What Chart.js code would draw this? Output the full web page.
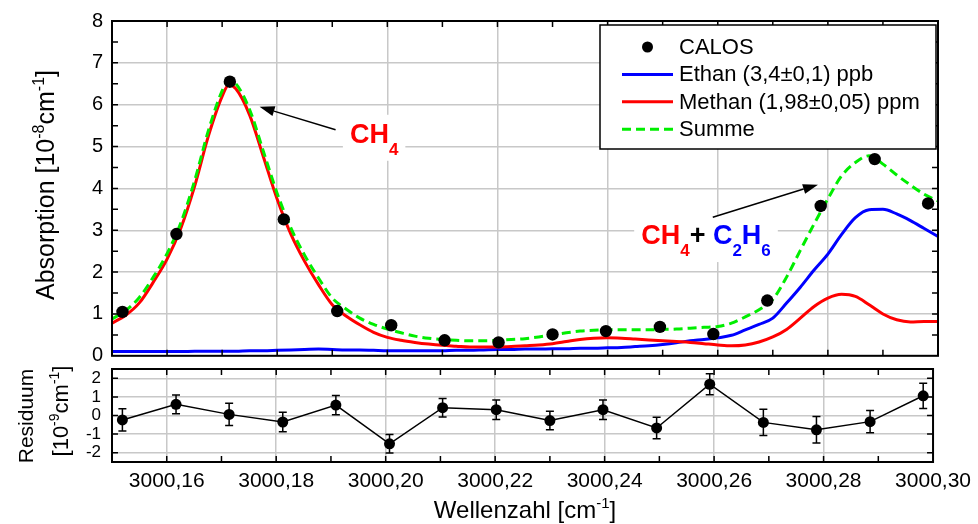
<!DOCTYPE html>
<html>
<head>
<meta charset="utf-8">
<script src="https://cdn.jsdelivr.net/npm/chart.js@4.4.1/dist/chart.umd.min.js"></script>
<style>
    body { margin: 0; background: #fff; width: 978px; height: 524px; position: relative; overflow: hidden; }
    canvas { position: absolute; left: 0; }
    #absChart { top: 0; }
    #resChart { top: 340px; }
</style>
</head>
<body>
<canvas id="absChart" width="978" height="362"></canvas>
<canvas id="resChart" width="978" height="184"></canvas>
<script>
// Wavenumber grid of the fitted curves [cm-1]
const curveX = [
    3000.1500, 3000.1525, 3000.1550, 3000.1575, 3000.1600, 3000.1625, 3000.1650, 3000.1675, 3000.1700, 3000.1712,
    3000.1725, 3000.1750, 3000.1775, 3000.1800, 3000.1825, 3000.1850, 3000.1875, 3000.1900, 3000.1925, 3000.1950,
    3000.1975, 3000.2000, 3000.2025, 3000.2050, 3000.2075, 3000.2100, 3000.2125, 3000.2150, 3000.2175, 3000.2200,
    3000.2225, 3000.2250, 3000.2275, 3000.2300, 3000.2325, 3000.2350, 3000.2375, 3000.2400, 3000.2425, 3000.2450,
    3000.2475, 3000.2500, 3000.2525, 3000.2550, 3000.2575, 3000.2600, 3000.2625, 3000.2650, 3000.2675, 3000.2700,
    3000.2725, 3000.2750, 3000.2775, 3000.2800, 3000.2825, 3000.2850, 3000.2875, 3000.2900, 3000.2925, 3000.2950,
    3000.2975, 3000.3000
];
// Absorption [1e-8 cm-1]
const ethan = [
    0.10, 0.10, 0.10, 0.10, 0.10, 0.10, 0.11, 0.11, 0.11, 0.11,
    0.11, 0.12, 0.12, 0.13, 0.14, 0.15, 0.16, 0.15, 0.14, 0.14,
    0.13, 0.12, 0.12, 0.12, 0.12, 0.12, 0.13, 0.13, 0.14, 0.15,
    0.15, 0.16, 0.16, 0.17, 0.17, 0.18, 0.18, 0.19, 0.20, 0.22,
    0.24, 0.27, 0.31, 0.36, 0.39, 0.43, 0.49, 0.62, 0.75, 0.90,
    1.26, 1.64, 2.05, 2.43, 2.90, 3.30, 3.49, 3.50, 3.39, 3.23,
    3.04, 2.85
];
const methan = [
    0.78, 0.97, 1.27, 1.76, 2.31, 3.05, 4.05, 5.25, 6.20, 6.47,
    6.38, 5.75, 4.75, 3.74, 2.90, 2.25, 1.70, 1.22, 0.95, 0.74,
    0.56, 0.44, 0.37, 0.32, 0.28, 0.25, 0.23, 0.21, 0.21, 0.21,
    0.22, 0.24, 0.26, 0.29, 0.34, 0.39, 0.42, 0.43, 0.42, 0.40,
    0.38, 0.36, 0.34, 0.32, 0.29, 0.26, 0.24, 0.26, 0.33, 0.45,
    0.63, 0.90, 1.18, 1.38, 1.47, 1.42, 1.22, 1.00, 0.86, 0.81,
    0.82, 0.82
];
const summe = [
    0.88, 1.08, 1.40, 1.88, 2.44, 3.18, 4.18, 5.38, 6.33, 6.58,
    6.50, 5.88, 4.88, 3.88, 3.05, 2.40, 1.86, 1.38, 1.12, 0.90,
    0.75, 0.64, 0.55, 0.47, 0.42, 0.39, 0.37, 0.36, 0.36, 0.37,
    0.39, 0.41, 0.45, 0.50, 0.55, 0.59, 0.61, 0.62, 0.62, 0.62,
    0.62, 0.63, 0.64, 0.66, 0.68, 0.70, 0.78, 0.93, 1.10, 1.35,
    1.88, 2.52, 3.15, 3.75, 4.30, 4.62, 4.78, 4.58, 4.32, 4.08,
    3.86, 3.70
];

// CALOS measurement
const calosX = [3000.1519, 3000.1617, 3000.1714, 3000.1812, 3000.1909, 3000.2007, 3000.2104, 3000.2202,
                3000.2300, 3000.2397, 3000.2495, 3000.2592, 3000.2690, 3000.2787, 3000.2885, 3000.2982];
const calosY = [1.05, 2.91, 6.55, 3.26, 1.07, 0.73, 0.37, 0.32, 0.51, 0.59, 0.69, 0.52, 1.32, 3.58, 4.70, 3.64];

// Residuum [1e-9 cm-1]
const residuum = [-0.24, 0.60, 0.06, -0.35, 0.56, -1.52, 0.42, 0.31, -0.27, 0.31, -0.67, 1.68, -0.37, -0.77, -0.33, 1.06];
const residuumErr = [0.60, 0.50, 0.60, 0.52, 0.52, 0.50, 0.50, 0.53, 0.50, 0.53, 0.58, 0.56, 0.70, 0.71, 0.60, 0.68];

// Axes
const xLabelTicks = [3000.16, 3000.18, 3000.20, 3000.22, 3000.24, 3000.26, 3000.28, 3000.30];
const xTickMarks = [3000.16, 3000.17, 3000.18, 3000.19, 3000.20, 3000.21, 3000.22, 3000.23,
                    3000.24, 3000.25, 3000.26, 3000.27, 3000.28, 3000.29];
const absTicks = [0, 1, 2, 3, 4, 5, 6, 7, 8];
const absTickMarks = [0.5, 1, 1.5, 2, 2.5, 3, 3.5, 4, 4.5, 5, 5.5, 6, 6.5, 7, 7.5];
const resTicks = [-2, -1, 0, 1, 2];

const FONT = "'Liberation Sans', Arial, sans-serif";
const RED = '#ff0000';
const BLUE = '#0000ff';
const GREEN = '#00ee00';
const GRID = '#c8c8c8';

Chart.defaults.font.family = FONT;
Chart.defaults.color = '#000';

// Text with super-/subscripts: parts = [text, 'sup'|'sub'|'', color]
function richText(ctx, parts, x, y, size, align, weight = 'normal') {
    const fontFor = kind => `${weight} ${kind ? Math.round(size * 0.62) : size}px ${FONT}`;
    let width = 0;
    parts.forEach(p => { ctx.font = fontFor(p[1]); width += ctx.measureText(p[0]).width; });
    let cx = align === 'center' ? x - width / 2 : x;
    ctx.textAlign = 'left';
    ctx.textBaseline = 'alphabetic';
    parts.forEach(p => {
        ctx.font = fontFor(p[1]);
        const dy = p[1] === 'sup' ? -size * 0.42 : p[1] === 'sub' ? size * 0.45 : 0;
        ctx.fillStyle = p[2] || '#000';
        ctx.fillText(p[0], cx, y + dy);
        cx += ctx.measureText(p[0]).width;
    });
    return width;
}

const points = (xs, ys) => xs.map((x, i) => ({ x, y: ys[i] }));
const setTicks = values => scale => { scale.ticks = values.map(v => ({ value: v })); };
// fixed axis width, no extra label padding so the plot area follows layout.padding
const fixWidth = w => scale => { scale.width = w; scale.paddingTop = 0; scale.paddingBottom = 0; };

// Frame around the plot area with inward tick marks
const framePlugin = {
    id: 'frame',
    afterDraw(chart, args, opts) {
        const { ctx, chartArea: a, scales: { x, y } } = chart;
        ctx.save();
        ctx.strokeStyle = '#000';
        ctx.lineWidth = 1.5;
        ctx.beginPath();
        opts.xMarks.forEach(v => {
            const px = x.getPixelForValue(v);
            ctx.moveTo(px, a.top); ctx.lineTo(px, a.top + 6);
            ctx.moveTo(px, a.bottom); ctx.lineTo(px, a.bottom - 6);
        });
        opts.yMarks.forEach(v => {
            const py = y.getPixelForValue(v);
            ctx.moveTo(a.left, py); ctx.lineTo(a.left + 6, py);
            ctx.moveTo(a.right, py); ctx.lineTo(a.right - 6, py);
        });
        ctx.stroke();
        ctx.lineWidth = 2;
        ctx.strokeRect(a.left, a.top, a.right - a.left, a.bottom - a.top);
        ctx.restore();
    }
};

// Axis titles with exponents
const titlesPlugin = {
    id: 'titles',
    afterDraw(chart, args, opts) {
        const ctx = chart.ctx;
        opts.items.forEach(t => {
            ctx.save();
            ctx.translate(t.x, t.y);
            if (t.rotate) ctx.rotate(-Math.PI / 2);
            richText(ctx, t.parts, 0, 0, t.size, 'center');
            ctx.restore();
        });
    }
};

// Boxed legend in the upper right corner
const boxLegend = {
    id: 'boxLegend',
    afterDraw(chart) {
        const { ctx, chartArea: a } = chart;
        const left = a.right - 338, top = a.top + 4, w = 336, h = 124;
        ctx.save();
        ctx.fillStyle = '#fff';
        ctx.fillRect(left, top, w, h);
        ctx.strokeStyle = '#000';
        ctx.lineWidth = 1.5;
        ctx.strokeRect(left, top, w, h);
        ctx.font = `22px ${FONT}`;
        ctx.textAlign = 'left';
        ctx.textBaseline = 'middle';
        chart.data.datasets.forEach((ds, i) => {
            const cy = top + 22 + i * 27.4;
            if (ds.showLine === false) {
                ctx.fillStyle = ds.backgroundColor;
                ctx.beginPath();
                ctx.arc(left + 47.5, cy, 5.5, 0, Math.PI * 2);
                ctx.fill();
            } else {
                ctx.strokeStyle = ds.borderColor;
                ctx.lineWidth = ds.borderWidth;
                ctx.setLineDash(ds.borderDash || []);
                ctx.beginPath();
                ctx.moveTo(left + 22, cy);
                ctx.lineTo(left + 73, cy);
                ctx.stroke();
                ctx.setLineDash([]);
            }
            ctx.fillStyle = '#000';
            ctx.fillText(ds.label, left + 79, cy + 1);
        });
        ctx.restore();
    }
};

// Labels with arrows, anchored in data coordinates
const notes = [
    { from: [3000.1906, 5.40], to: [3000.1768, 5.95], at: [3000.1932, 5.09],
      parts: [['CH', '', RED], ['4', 'sub', RED]] },
    { from: [3000.2591, 3.31], to: [3000.2782, 4.09], at: [3000.2461, 2.67],
      parts: [['CH', '', RED], ['4', 'sub', RED], ['+', '', '#000'], [' C', '', BLUE], ['2', 'sub', BLUE], ['H', '', BLUE], ['6', 'sub', BLUE]] }
];
const NOTE_SIZE = 27;

const notesPlugin = {
    id: 'notes',
    beforeDatasetsDraw(chart) {
        const { ctx, scales: { x, y } } = chart;
        ctx.save();
        notes.forEach(n => {
            const w = n.parts.reduce((s, p) => {
                ctx.font = `bold ${p[1] ? Math.round(NOTE_SIZE * 0.62) : NOTE_SIZE}px ${FONT}`;
                return s + ctx.measureText(p[0]).width;
            }, 0);
            const px = x.getPixelForValue(n.at[0]), py = y.getPixelForValue(n.at[1]);
            ctx.fillStyle = '#fff';
            ctx.fillRect(px - 7, py - 28, w + 14, 46);
        });
        ctx.restore();
    },
    afterDraw(chart) {
        const { ctx, scales: { x, y } } = chart;
        ctx.save();
        notes.forEach(n => {
            const x1 = x.getPixelForValue(n.from[0]), y1 = y.getPixelForValue(n.from[1]);
            const x2 = x.getPixelForValue(n.to[0]), y2 = y.getPixelForValue(n.to[1]);
            const ang = Math.atan2(y2 - y1, x2 - x1);
            const len = 15, half = 5;
            const bx = x2 - len * Math.cos(ang), by = y2 - len * Math.sin(ang);
            ctx.strokeStyle = '#000';
            ctx.lineWidth = 1.5;
            ctx.beginPath();
            ctx.moveTo(x1, y1);
            ctx.lineTo(bx, by);
            ctx.stroke();
            ctx.fillStyle = '#000';
            ctx.beginPath();
            ctx.moveTo(x2, y2);
            ctx.lineTo(bx + half * Math.sin(ang), by - half * Math.cos(ang));
            ctx.lineTo(bx - half * Math.sin(ang), by + half * Math.cos(ang));
            ctx.closePath();
            ctx.fill();
            richText(ctx, n.parts, x.getPixelForValue(n.at[0]), y.getPixelForValue(n.at[1]), NOTE_SIZE, 'left', 'bold');
        });
        ctx.restore();
    }
};

// Vertical error bars for datasets carrying an `errors` array
const errorBars = {
    id: 'errorBars',
    beforeDatasetsDraw(chart) {
        const { ctx, scales: { x, y } } = chart;
        chart.data.datasets.forEach(ds => {
            if (!ds.errors) return;
            ctx.save();
            ctx.strokeStyle = '#000';
            ctx.lineWidth = 1.5;
            ctx.beginPath();
            ds.data.forEach((p, i) => {
                const px = x.getPixelForValue(p.x);
                const top = y.getPixelForValue(p.y + ds.errors[i]);
                const bot = y.getPixelForValue(p.y - ds.errors[i]);
                ctx.moveTo(px, top); ctx.lineTo(px, bot);
                ctx.moveTo(px - 4, top); ctx.lineTo(px + 4, top);
                ctx.moveTo(px - 4, bot); ctx.lineTo(px + 4, bot);
            });
            ctx.stroke();
            ctx.restore();
        });
    }
};

const gridStyle = { color: GRID, lineWidth: 1.5, drawTicks: false };

// Absorption spectrum
new Chart(document.getElementById('absChart').getContext('2d'), {
    type: 'line',
    data: {
        datasets: [{
            label: 'CALOS',
            data: points(calosX, calosY),
            showLine: false,
            pointRadius: 6.2,
            pointBackgroundColor: '#000',
            backgroundColor: '#000',
            pointBorderWidth: 0,
            order: 0
        }, {
            label: 'Ethan (3,4±0,1) ppb',
            data: points(curveX, ethan),
            borderColor: BLUE,
            borderWidth: 3,
            pointRadius: 0,
            cubicInterpolationMode: 'monotone',
            order: 3
        }, {
            label: 'Methan (1,98±0,05) ppm',
            data: points(curveX, methan),
            borderColor: RED,
            borderWidth: 3,
            pointRadius: 0,
            cubicInterpolationMode: 'monotone',
            order: 2
        }, {
            label: 'Summe',
            data: points(curveX, summe),
            borderColor: GREEN,
            borderWidth: 3,
            borderDash: [9, 5],
            pointRadius: 0,
            cubicInterpolationMode: 'monotone',
            order: 1
        }]
    },
    options: {
        responsive: false,
        animation: false,
        events: [],
        layout: { padding: { left: 0, right: 40, top: 21, bottom: 5 } },
        plugins: {
            legend: { display: false },
            tooltip: { enabled: false },
            frame: { xMarks: xTickMarks, yMarks: absTickMarks },
            titles: {
                items: [{
                    x: 54, y: 185, size: 25, rotate: true,
                    parts: [['Absorption [10', ''], ['-8', 'sup'], ['cm', ''], ['-1', 'sup'], [']', '']]
                }]
            }
        },
        scales: {
            x: {
                type: 'linear',
                min: 3000.15,
                max: 3000.30,
                afterBuildTicks: setTicks(xLabelTicks),
                afterFit: scale => { scale.height = 0; },
                ticks: { display: false },
                grid: gridStyle,
                border: { display: false }
            },
            y: {
                min: 0,
                max: 8,
                afterBuildTicks: setTicks(absTicks),
                afterFit: fixWidth(112),
                ticks: { font: { size: 20 }, color: '#000', padding: 9, autoSkip: false },
                grid: gridStyle,
                border: { display: false }
            }
        }
    },
    plugins: [notesPlugin, framePlugin, boxLegend, titlesPlugin]
});

// Fit residuals
new Chart(document.getElementById('resChart').getContext('2d'), {
    type: 'line',
    data: {
        datasets: [{
            label: 'Residuum',
            data: points(calosX, residuum),
            errors: residuumErr,
            borderColor: '#000',
            borderWidth: 1.5,
            pointRadius: 5.5,
            pointBackgroundColor: '#000',
            pointBorderWidth: 0,
            tension: 0
        }]
    },
    options: {
        responsive: false,
        animation: false,
        events: [],
        layout: { padding: { left: 0, right: 40, top: 29, bottom: 0 } },
        plugins: {
            legend: { display: false },
            tooltip: { enabled: false },
            frame: { xMarks: xTickMarks, yMarks: resTicks },
            titles: {
                items: [{
                    x: 33, y: 76, size: 21, rotate: true,
                    parts: [['Residuum', '']]
                }, {
                    x: 68, y: 71, size: 22, rotate: true,
                    parts: [['[10', ''], ['-9', 'sup'], ['cm', ''], ['-1', 'sup'], [']', '']]
                }, {
                    x: 525, y: 178, size: 24,
                    parts: [['Wellenzahl [cm', ''], ['-1', 'sup'], [']', '']]
                }]
            }
        },
        scales: {
            x: {
                type: 'linear',
                min: 3000.15,
                max: 3000.30,
                afterBuildTicks: setTicks(xLabelTicks),
                afterFit: scale => { scale.height = 62; },
                ticks: {
                    font: { size: 21 },
                    color: '#000',
                    padding: 7,
                    autoSkip: false,
                    maxRotation: 0,
                    callback: v => v.toFixed(2).replace('.', ',')
                },
                grid: gridStyle,
                border: { display: false }
            },
            y: {
                min: -2.5,
                max: 2.5,
                afterBuildTicks: setTicks(resTicks),
                afterFit: fixWidth(112),
                ticks: { font: { size: 17 }, color: '#000', padding: 11, autoSkip: false },
                grid: gridStyle,
                border: { display: false }
            }
        }
    },
    plugins: [errorBars, framePlugin, titlesPlugin]
});
</script>
</body>
</html>
